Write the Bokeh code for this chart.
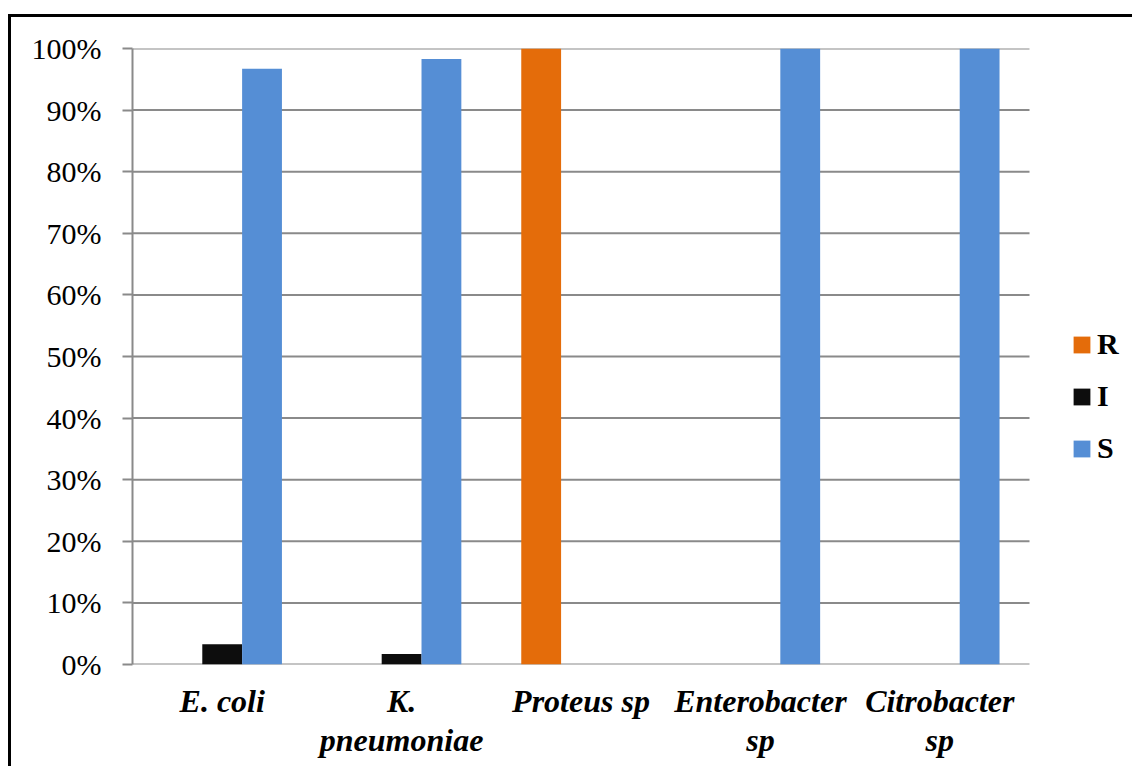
from bokeh.plotting import figure
from bokeh.models import Range1d, NumeralTickFormatter, Legend, LegendItem, ColumnDataSource, FixedTicker
from bokeh.embed import file_html
from bokeh.resources import INLINE

categories = ["E. coli", "K.\npneumoniae", "Proteus sp", "Enterobacter\nsp", "Citrobacter\nsp"]
R = [0.0, 0.0, 1.0, 0.0, 0.0]
I = [0.033, 0.017, 0.0, 0.0, 0.0]
S = [0.967, 0.983, 0.0, 1.0, 1.0]
series_names = ["R", "I", "S"]
colors = ["#E46C0A", "#0D0D0D", "#558ED5"]
y_ticks = [i / 10 for i in range(11)]

n = len(categories)
centers = [i + 0.5 for i in range(n)]
source = ColumnDataSource(dict(x=centers, R=R, I=I, S=S))

# layout (pixels)
W, H = 1124, 752
left, top, bottom = 121, 31, 105
plot_px = 897  # pixel width of the category area
frame_px = W - left
x_end = n * frame_px / plot_px

p = figure(x_range=Range1d(0, x_end), y_range=Range1d(0, 1),
           width=W, height=H, output_backend="svg", toolbar_location=None,
           min_border_left=left, min_border_right=0, min_border_top=top, min_border_bottom=bottom)
p.styles = {"margin-left": "8px", "margin-top": "14px",
            "border-left": "3px solid black", "border-top": "3px solid black"}
p.outline_line_color = None
p.background_fill_color = "white"
p.border_fill_color = "white"
p.grid.grid_line_color = None

grey = "#8A8A8A"
# horizontal gridlines over the category area only
p.segment(x0=[0] * len(y_ticks), x1=[n] * len(y_ticks), y0=y_ticks, y1=y_ticks,
          line_color=grey, line_width=2)

bw = 0.222
renderers = []
for name, off, col in zip(series_names, [-bw, 0.0, bw], colors):
    r = p.vbar(x=[c + off for c in centers], top=source.data[name], width=bw,
               fill_color=col, line_color=None)
    renderers.append(r)

p.yaxis.ticker = y_ticks
p.yaxis.formatter = NumeralTickFormatter(format="0%")
p.yaxis.axis_line_color = grey
p.yaxis.axis_line_width = 2
p.yaxis.major_tick_line_color = grey
p.yaxis.major_tick_line_width = 2
p.yaxis.major_tick_out = 10
p.yaxis.major_tick_in = 0
p.yaxis.minor_tick_line_color = None
p.yaxis.major_label_text_font = "Liberation Serif"
p.yaxis.major_label_text_font_size = "30px"
p.yaxis.major_label_text_color = "black"
p.yaxis.major_label_standoff = 21

p.xaxis.ticker = FixedTicker(ticks=centers)
p.xaxis.major_label_overrides = {c: lab for c, lab in zip(centers, categories)}
p.xaxis.axis_line_color = None
p.xaxis.major_tick_line_color = None
p.xaxis.minor_tick_line_color = None
p.xaxis.major_label_text_font = "Liberation Serif"
p.xaxis.major_label_text_font_size = "32px"
p.xaxis.major_label_text_font_style = "bold italic"
p.xaxis.major_label_text_color = "black"
p.xaxis.major_label_standoff = 12
p.xaxis.major_label_text_line_height = 1.1

legend = Legend(items=[LegendItem(label=s, renderers=[r]) for s, r in zip(series_names, renderers)],
                location=(939, 199), orientation="vertical")
legend.border_line_color = None
legend.background_fill_alpha = 0
legend.padding = 0
legend.margin = 0
legend.spacing = 18
legend.glyph_width = 21
legend.glyph_height = 21
legend.label_height = 30
legend.label_standoff = 5
legend.label_text_font = "Liberation Serif"
legend.label_text_font_size = "30px"
legend.label_text_font_style = "bold"
legend.label_text_color = "black"
p.add_layout(legend, "center")

open("out.html", "w").write(file_html(p, INLINE))
